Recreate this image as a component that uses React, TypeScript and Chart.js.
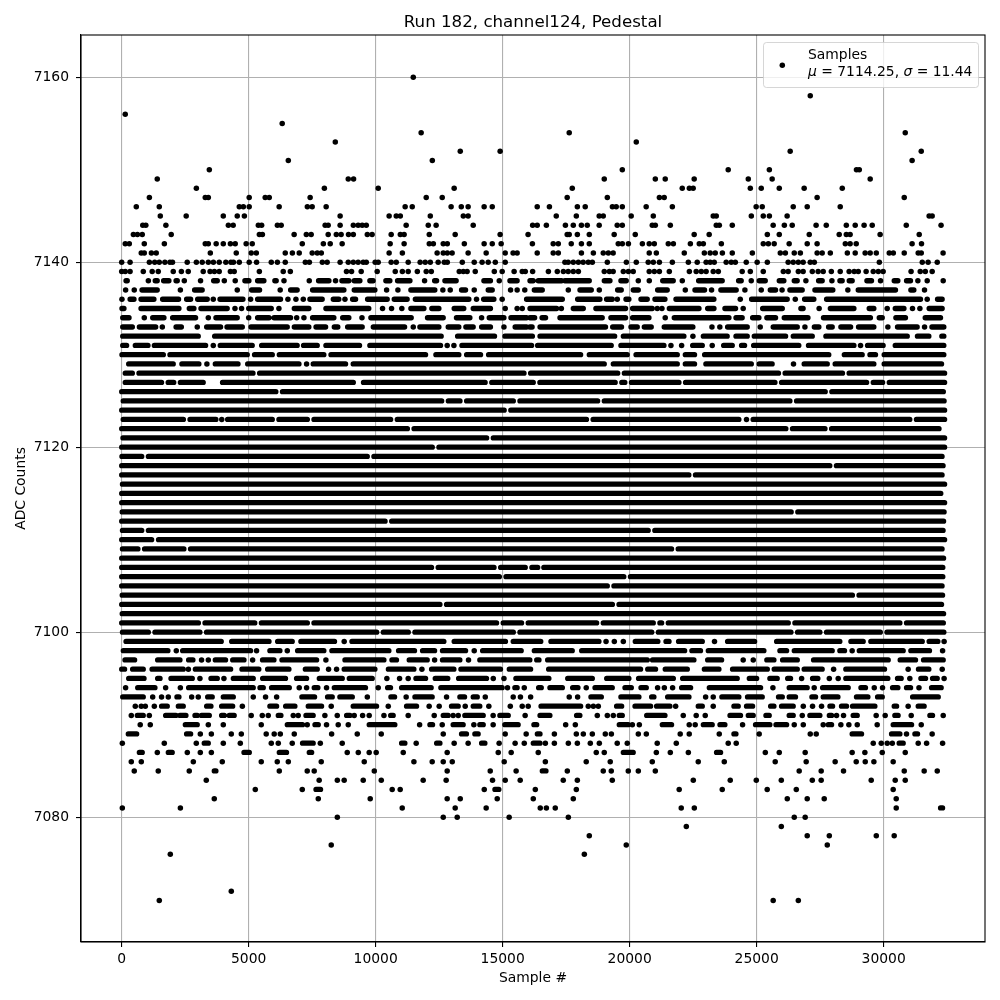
import React, { useEffect, useRef } from "react";
import { Chart, registerables } from "chart.js";

Chart.register(...registerables);

type Cell = number | [number, number];

const titleText = "Run 182, channel124, Pedestal";
const xLabel = "Sample #";
const yLabel = "ADC Counts";
const xTicks = [0, 5000, 10000, 15000, 20000, 25000, 30000];
const yTicks = [7080, 7100, 7120, 7140, 7160];
const legendName = "Samples";
const mu = "7114.25";
const sigma = "11.44";

// A plain number is one sample; a pair is a solid run of overlapping samples.
const r7160: Cell[] = [11480];
const r7158: Cell[] = [27110];
const r7156: Cell[] = [140];
const r7155: Cell[] = [6320];
const r7154: Cell[] = [11790, 17620, 30850];
const r7153: Cell[] = [8410, 20260];
const r7152: Cell[] = [13330, 14900, 26320, 31480];
const r7151: Cell[] = [6560, 12230, 31120];
const r7150: Cell[] = [3450, 19710, 23880, 25500, 28930, 29040];
const r7149: Cell[] = [1400, 8920, 9130, 19000, 21010, 21400, 22540, 24670, 25610, 29470];
const r7148: Cell[] = [2940, 7980, 10100, 13090, 17740, 22070, 22350, 22500, 24750, 25180, 25890, 26870, 28370];
const r7147: Cell[] = [1090, 3290, 3410, 5020, 5650, 5810, 7420, 11990, 12620, 17540, 19120, 21170, 21360, 27380, 30810];
const r7146: Cell[] = [575, 1480, 4630, 4790, 5020, 6200, 7310, 7500, 8050, 11160, 11440, 12970, 13370, 13640, 14270, 14590, 16360, 16840, 17940, 18250, 19320, 19470, 19710, 20650, 21680, 24980, 25220, 26440, 26990, 28290];
const r7145: Cell[] = [1520, 2540, 4000, 4550, 4830, 8600, 10530, 10810, 10970, 12150, 13450, 13640, 17110, 17900, 18800, 18960, 20060, 20930, 23290, 23410, 24790, 25260, 25500, 26200, 31790, 31910];
const r7144: Cell[] = [830, 950, 1740, 4200, 4390, 5380, 5510, 6130, 6280, 8010, 8130, 8600, 9120, 9310, 9470, 9630, 11200, 12070, 12380, 13840, 16180, 16360, 16720, 17470, 17780, 18100, 18330, 18800, 19510, 19710, 20890, 21010, 21600, 23410, 23530, 24040, 25650, 26090, 26400, 27340, 27740, 28530, 28880, 29230, 29550, 30890, 32260];
const r7143: Cell[] = [460, 620, 810, 1950, 5420, 5540, 6790, 7270, 7460, 8130, 8450, 8640, 8930, 9120, 9670, 9860, 10610, 10970, 11120, 12110, 13130, 14900, 16000, 17540, 17620, 17940, 18410, 19390, 20220, 22540, 23130, 25420, 25890, 27070, 28250, 28530, 28680, 29860, 31400];
const r7142: Cell[] = [140, 300, 890, 1680, 3290, 3410, 3720, 4000, 4280, 4470, 4900, 5140, 7110, 7940, 8210, 8680, 10570, 11120, 12110, 12270, 12660, 12820, 13490, 14270, 14590, 14940, 16170, 16990, 17190, 17700, 18100, 18410, 19550, 19710, 19950, 20500, 20770, 20970, 21520, 21720, 22390, 22740, 22900, 23610, 25260, 25460, 25690, 26280, 26990, 27380, 28490, 28680, 28920, 31120, 31490];
const r7141: Cell[] = [770, 890, 1170, 1360, 3490, 4510, 5100, 5300, 6440, 6720, 6990, 7500, 7700, 7860, 10530, 11050, 12420, 12660, 12820, 13010, 13640, 14350, 15100, 15410, 15570, 16360, 16990, 17190, 18100, 18570, 18960, 19160, 19350, 20770, 21050, 22150, 22940, 23170, 23370, 23650, 24040, 24830, 25930, 26130, 26480, 26720, 27380, 27580, 27900, 28570, 28880, 29270, 29470, 29710, 30220, 30380, 30810, 31360, 31480, 32340];
const r7140: Cell[] = [0, 330, 1090, 1300, 1480, 1700, 1900, 2000, 2580, 2940, 3170, 3410, 3610, 3840, 4100, 4300, 4400, 4630, 5020, 5310, 5890, 6130, 6440, 7230, 7390, 7900, 8090, 8600, 8920, 9120, 9310, 9510, 9630, 9980, 10100, 10610, 10810, 11280, 11750, 11950, 12150, 12460, 12700, 12820, 13410, 13880, 14190, 14430, 14710, 15100, 17450, 17580, 17780, 17980, 18170, 18370, 18530, 19120, 19870, 20260, 20730, 20930, 21170, 21680, 22310, 22660, 23010, 23170, 23330, 23800, 24000, 24160, 24590, 25020, 25420, 26240, 26440, 26640, 26830, 27110, 27270, 29830, 31520, 31750, 32110];
const r7139: Cell[] = [0, 140, 330, 850, 1200, 1440, 2030, 2350, 2620, 3210, 3480, 3650, 3840, 4280, 4430, 5420, 6360, 6640, 8850, 9050, 9430, 10060, 10770, 11050, 11280, 11640, 11990, 12190, 13290, 13450, 13600, 13920, 14670, 14980, 15450, 15770, 15890, 16180, 16800, 17150, 17390, 17580, 17780, 17980, 19000, 19200, 19350, 19750, 19950, 20140, 20770, 20970, 21170, 21560, 22350, 22620, 22820, 23010, 23290, 23490, 24430, 24750, 25260, 26050, 26240, 26640, 26830, 27190, 27420, 27620, 27940, 28290, 28640, 28840, 29000, 29310, 29590, 29790, 29980, 31080, 31440, 31640, 31910];
const r7138: Cell[] = [[170, 220], 1050, [1320, 1400], [1650, 1860], [2140, 2190], 2465, 3105, [3620, 3765], 4040, 4470, [4850, 5010], [5350, 5600], [6030, 6085], 6390, 7385, [7750, 8160], 8420, [8670, 8945], [9155, 9380], [9770, 9900], [10400, 10560], [10860, 11350], 11925, [12320, 12400], [12725, 13170], [14260, 14520], 14865, [15285, 15570], [16075, 16200], [16400, 17320], [17450, 18410], [19000, 19225], [19655, 19867], 20340, 20772, [21300, 21717], 22071, [22714, 23645], [24288, 24393], 24787, [25100, 25340], [25889, 26072], [26479, 26597], 26938, [27437, 27581], 27962, [28277, 28368], [28644, 28762], [29340, 29523], 29877, [30415, 30560], [30900, 31058], 31347, 31714, 32344];
const r7137: Cell[] = [155, 495, [800, 1400], 2310, [2870, 3170], 4550, [5115, 5430], 6240, [6650, 6910], [7515, 8750], [9155, 9970], 10430, 10875, [11385, 12330], 12645, 12935, [13380, 13540], 13880, [14430, 14590], 15310, 15570, 15870, [16245, 16560], 17584, [18043, 18490], 18804, [19525, 19670], [20142, 20340], [21100, 21480], 22190, [22570, 22950], 23225, [23590, 24196], 24537, 25180, [25535, 25745], 26000, [26308, 26794], [27293, 28000], 28590, [28998, 30467], [31070, 31190], 31609];
const r7136: Cell[] = [10, [330, 485], [760, 1270], [1610, 2240], [2555, 2715], [2990, 3370], 3606, [3870, 4775], 5075, [5350, 6255], 6545, 6860, 7150, [7410, 7895], [8330, 8550], 8790, [9090, 9210], [9680, 10455], [10730, 11240], [11560, 13670], 13970, [14250, 14655], 14980, [15940, 17350], [17950, 18830], [19090, 19316], 19512, [19854, 19970], [20444, 20693], [20995, 21390], [21822, 23317], 24354, [24800, 26204], 26520, [26886, 27253], [27752, 31452], 31714, [32120, 32304]];
const r7135: Cell[] = [[10, 90], [760, 2255], [2660, 2845], [3120, 4155], 4460, 4720, [5000, 5890], 6190, [6795, 7370], [8040, 9730], 10270, 10625, 11030, [11385, 11900], [12210, 12490], [13090, 13470], [13840, 14520], 15100, 15570, 15770, [16075, 17125], 17310, [17780, 18175], [18670, 19840], [20115, 20890], 21087, 21270, [21560, 22730], [23070, 23320], [23750, 24170], 24470, [25235, 26010], [26740, 26830], 27460, [27900, 28830], [29430, 29615], 30140, [30455, 30800], 31135, 31426, [31790, 32304]];
const r7134: Cell[] = [[40, 290], 890, [1220, 1665], [2005, 2910], 3410, [3710, 4550], 5000, [5350, 5800], [6000, 6650], 6890, 7175, [7515, 8355], [8700, 8945], 9460, [9810, 11400], [12040, 12660], [13180, 13710], 14170, [14470, 15050], [15325, 15940], [16075, 16260], [16550, 16690], [17255, 18920], [19260, 19840], [20115, 20760], 21400, [21755, 23910], [24185, 24430], [24840, 25090], [25400, 25745], [26085, 27020], [27630, 29480], [29825, 29945], [30480, 30860], [31635, 32240]];
const r7133: Cell[] = [[40, 420], [695, 1340], 1600, [2140, 2350], 2975, [3345, 3895], [4145, 4750], [5090, 6520], [6795, 7370], [7650, 8030], [8370, 8510], [8895, 9470], [9905, 11140], 11480, [11740, 12490], [12855, 13275], [13550, 13840], [14170, 14520], 15050, [15490, 15940], [16075, 16160], [16470, 19050], [19330, 19680], [20050, 20300], [20575, 20850], [21360, 22490], 23240, 23550, [23855, 24630], 25140, [25650, 26600], 26900, [27270, 27450], [27830, 27975], [28315, 28700], [29010, 29615], 30165, [30545, 31320], 31610, [31900, 32370]];
const r7132: Cell[] = [[40, 3015], [3660, 12580], [13225, 14680], [15090, 16170], [16470, 19410], [19750, 22136], 22490, [22900, 23840], [24185, 24630], [24905, 26140], [26440, 27190], [27725, 30930], [31330, 31780], [32290, 32370]];
const r7131: Cell[] = [[40, 195], [535, 1035], [1285, 3305], 3606, [3880, 5140], [5510, 6910], [7160, 7700], [8040, 9365], [9770, 12555], 12816, 13080, [13395, 16140], [16375, 19275], [19655, 21350], 21625, 22045, [22480, 22860], 23250, [23700, 24040], [24405, 24525], [24880, 26660], [27040, 28830], 29090, [29365, 29980], [30455, 32370]];
const r7130: Cell[] = [[10, 1640], [1900, 4945], [5230, 5930], [6205, 7960], [8240, 11965], [12370, 13275], [13580, 14130], [14445, 18070], [18410, 19905], [20250, 21875], [22190, 22555], [22950, 27840], [28450, 29155], [29460, 29680], [30020, 32370]];
const r7129: Cell[] = [[275, 2030], [2370, 3040], 3355, [3685, 4580], [4960, 6980], 7280, [7540, 8815], [9115, 19000], [19355, 21875], [22190, 22555], [23000, 24790], [25100, 25610], 26450, [26870, 27780], [28090, 29615], [30020, 32280]];
const r7128: Cell[] = [[140, 420], [680, 5170], [5430, 15840], [16100, 19530], [19790, 25860], [26120, 28380], [28640, 32400]];
const r7127: Cell[] = [[140, 1570], [1830, 2050], [2310, 3210], [3970, 9120], [9520, 14310], [14570, 16205], [16465, 19430], [19690, 19810], [20070, 21940], [22200, 25720], [25980, 29330], [29590, 29960], [30220, 32400]];
const r7126: Cell[] = [[0, 6070], [6330, 27700], [27960, 32350]];
const r7125: Cell[] = [[60, 12600], [12860, 13320], [13580, 15420], [15680, 18740], [19000, 26310], [26570, 32380]];
const r7124: Cell[] = [[0, 15060], [15320, 32400]];
const r7123: Cell[] = [[60, 2430], [2690, 3710], 3940, [4170, 5930], [6190, 7310], [7570, 10590], [10850, 18300], [18560, 24300], 24600, [24860, 31030], [31290, 32400]];
const r7122: Cell[] = [[0, 11250], [11510, 26150], [26410, 27690], [27950, 32180]];
const r7121: Cell[] = [[50, 14370], [14630, 32400]];
const r7120: Cell[] = [[0, 12230], [12490, 32400]];
const r7119: Cell[] = [[10, 790], [1050, 9670], [9930, 32300]];
const r7118: Cell[] = [[0, 27880], [28140, 32340]];
const r7117: Cell[] = [[0, 22330], [22590, 32300]];
const r7116: Cell[] = [[30, 32400]];
const r7115: Cell[] = [[0, 32250]];
const r7114: Cell[] = [[0, 32400]];
const r7113: Cell[] = [[20, 26360], [26620, 32380]];
const r7112: Cell[] = [[0, 10370], [10630, 32360]];
const r7111: Cell[] = [[30, 790], [1050, 20730], [20990, 32340]];
const r7110: Cell[] = [[0, 1180], [1450, 32400]];
const r7109: Cell[] = [[30, 640], [900, 2450], [2710, 21650], [21910, 32300]];
const r7108: Cell[] = [[0, 32360]];
const r7107: Cell[] = [[0, 12200], [12460, 14660], [14920, 15890], [16150, 16380], [16620, 32330]];
const r7106: Cell[] = [[0, 14870], [15130, 19770], [20030, 32330]];
const r7105: Cell[] = [[0, 19120], [19380, 32300]];
const r7104: Cell[] = [[20, 28770], [29030, 32320]];
const r7103: Cell[] = [[0, 12530], [12790, 19320], [19580, 32280]];
const r7102: Cell[] = [[20, 32360]];
const r7101: Cell[] = [[0, 3020], [3280, 5240], [5500, 7310], [7570, 14760], [15020, 15745], [16005, 18700], [18960, 20930], [21190, 21260], [21520, 26245], [26505, 30640], [30900, 32350]];
const r7100: Cell[] = [[30, 1050], [1310, 3080], [3340, 10040], [10300, 11285], [11545, 15420], [15680, 20870], [21130, 26350], [26610, 27490], [27750, 29870], [30130, 32370]];
const r7099: Cell[] = [[170, 3920], [4330, 5800], [6140, 6715], [7055, 8380], 8760, [9065, 12685], [13090, 15110], [15415, 16500], [16900, 18790], 19070, 19395, 19750, [20220, 21110], [21430, 21550], [21925, 22860], 23340, [23855, 24920], [25785, 28275], [28710, 29195], [29495, 31520], [31790, 32135], 32380];
const r7098: Cell[] = [[63, 1820], 2150, [2400, 5075], 5310, [5835, 6230], 6520, [6925, 7960], [8275, 10520], [10900, 11530], [11845, 12320], [12630, 13540], 13880, [14210, 15730], [16245, 17740], [18110, 22165], [22450, 22790], [23095, 25285], [25915, 26180], [26480, 27975], [28275, 28460], 28760, [29040, 30770], [31070, 31805], 32320];
const r7097: Cell[] = [[130, 510], [1415, 2295], [2635, 2805], 3145, 3410, [3685, 4090], [4370, 4815], 5155, [5545, 5995], [6310, 7675], 8040, [8790, 10325], [10640, 10820], [11320, 12030], 12320, [12630, 13315], 13655, [14100, 16070], [16340, 16430], [16770, 20695], [20900, 22530], [23070, 23620], 24470, 24865, [25400, 25680], [26020, 26600], [27240, 30180], [30650, 31255], [31570, 32345]];
const r7096: Cell[] = [[0, 115], [430, 850], [1195, 2425], 2625, [2900, 4290], [4735, 5400], [5745, 6585], [7230, 7700], 8145, 8460, [8760, 9970], [10500, 11505], 11820, [12200, 13080], [13355, 14915], [15260, 16100], [16810, 20430], [20710, 21020], [21400, 22270], [22940, 23515], [24050, 25420], [25690, 26600], [26870, 27580], 28030, [28510, 30035], 30965, [31370, 31780], 32305];
const r7095: Cell[] = [[275, 880], [1415, 1510], [1940, 2780], 3080, [3515, 3765], 4025, [4395, 5180], [5550, 6450], [6885, 7280], [7780, 8685], [8960, 9865], 10440, 10940, 11280, [11585, 11965], [12345, 12840], [13265, 14365], 14630, 15050, [15520, 16820], [17560, 18530], [19095, 19970], [20350, 21720], [22085, 24235], [24710, 25000], [25520, 25810], [26220, 26335], 26770, [27200, 27410], 27860, 28210, [28510, 30165], [30545, 30690], 31030, [31465, 31650], [31925, 32110], 32380];
const r7094: Cell[] = [155, [630, 1310], 1730, 2310, [2635, 5180], [5445, 5575], [5900, 6600], 6990, 7280, [7580, 7725], 8065, [8370, 9600], 10100, [10470, 10585], [11020, 12185], [12565, 14980], 15190, [15480, 15570], 15850, [16415, 16520], [16860, 17350], [17755, 17965], 18290, [18635, 19315], [19815, 20065], [20445, 20655], 21100, 21365, 21690, [22045, 22400], [23135, 25155], 25640, [26280, 26990], 27265, [27595, 28605], [29105, 29285], 29630, 29955, [30350, 30560], [30900, 31060], 31390, [31885, 32265]];
const r7093: Cell[] = [[40, 850], 1220, 1570, 1835, [2175, 2255], 2755, 3015, [3385, 3565], [4000, 4395], 5180, 5665, 6100, [7095, 7595], [8105, 8290], [8590, 9080], 9670, [10600, 10745], 11200, [11545, 12225], 12790, [13315, 13500], [13840, 14000], 14315, 15415, 15700, 16100, 17620, 17950, [18475, 18885], [19655, 20365], [20865, 20955], [21495, 22335], 22990, 23290, [23630, 24300], [24640, 25220], [25860, 26010], [26280, 26530], [27175, 27320], [27620, 28200], [28930, 29380], [29760, 29945], [31140, 32150]];
const r7092: Cell[] = [535, 770, 930, 1285, [1570, 1795], [2230, 2425], [3345, 3515], [3935, 4370], 4750, [5835, 6100], [6455, 6820], [7345, 7870], 8250, [9115, 10035], 10495, [11215, 11610], 12105, 12500, [12985, 13250], 13525, [13840, 14100], 14455, 15300, 15770, 16005, [16510, 18070], 18370, 18570, 18765, [19485, 19685], [20210, 20825], [21060, 21585], 21810, [22700, 22860], 23290, [24105, 24275], [24600, 24840], [25550, 25680], [25980, 26440], 26835, 27200, 27555, [27885, 27990], [28340, 28540], [28775, 29655], [30415, 30510], 30965, [31360, 31595]];
const r7091: Cell[] = [378, [615, 850], 1087, [1730, 2135], [2295, 2530], [2885, 2975], [3145, 3450], [3935, 4040], [4235, 4430], 5100, 5535, 5770, [6165, 6270], 6755, 6950, [7255, 7540], 8000, 8487, [8855, 8985], 9155, 9485, 9745, 10325, [10590, 10690], 11280, 12305, [12660, 12855], 13050, 13250, [13510, 14235], 14625, [14890, 15220], 15885, [16470, 16860], [17910, 18040], 18725, 19120, 19355, [19590, 19710], [20670, 21390], 22110, 22620, 22975, [23950, 24365], [24670, 24865], [25365, 25495], [26280, 26440], 26795, [27095, 27490], [27860, 27950], 28145, 28420, [28800, 28960], 29705, 30060, [30440, 30570], 31085, [31820, 31925], 32345];
const r7090: Cell[] = [730, 1125, [2505, 2975], 3410, 4000, 5495, [6520, 7120], 7305, [7610, 7740], 8065, 8525, 8920, [9745, 10755], 11730, [12135, 12240], 12620, [13050, 13445], 13865, [14100, 14235], 14625, [15085, 15610], [16230, 16340], 17480, 17860, [19590, 19945], 20105, 20380, [21285, 21650], 22345, 22580, [22900, 23250], [23555, 23750], 24445, [24955, 25520], [25760, 26180], 26480, 26835, 27620, [27820, 27950], 28315, 28630, 28960, 29745, [30375, 31100], 31480];
const r7089: Cell[] = [[260, 590], [2555, 2715], 3095, 3530, 4315, 4710, 5690, 6005, 6245, 6795, 8265, 9275, 10220, 12660, [13380, 13575], [13905, 14035], 15100, 15925, [16365, 16470], 17035, 17900, 18175, 18530, 19040, 19280, 20340, 20655, 21990, 22345, 23527, [24105, 24185], 25100, 27110, 27345, [28760, 29130], [30310, 30640], 30900, [31230, 31335], 31910];
const r7088: Cell[] = [25, 1677, 2937, [3250, 3410], 4000, 4670, 5890, 6165, 6715, [7120, 7540], 7820, 8683, [11020, 11150], 11595, [12400, 12530], 13090, 13640, [14170, 14300], 14860, 15490, 15850, [16205, 16470], 16680, 17035, 17585, 17940, 18450, 18805, 19510, 19905, 21085, 21835, 23880, 24195, 29590, 29905, 30140, 30340, [30610, 30770], 31360, 31690, 32320];
const r7087: Cell[] = [[695, 810], 1402, [1835, 1990], 2583, 3095, 3530, [4815, 5025], [6205, 6490], [7385, 7480], 8880, 9315, 9745, 10020, 11085, 12815, 14825, 15335, 16400, 18685, 19000, [19750, 20140], 21050, 21600, 22310, [23420, 23580], 25340, 25890, 26910, 28760, 29260, 29945, 30850];
const r7086: Cell[] = [378, 772, 2820, 3960, 5495, 6125, 6560, 7857, 9550, 11505, 12225, 12660, 13015, 15060, 16680, 18290, 19235, 20890, 22700, 23725, 25730, 26950, 28090, 28920, 29275, 29615, 30375];
const r7085: Cell[] = [495, 1440, 2660, [3645, 3710], 6205, 7305, 7580, 9945, 12815, 14510, 15530, [16560, 16705], 17545, 18960, 19275, 19945, 20340, 21010, 26675, 27540, 28420, 30810, 31595, 32110];
const r7084: Cell[] = [3330, 7775, 8490, 8760, 9510, 10220, 11870, 12775, 14600, 15100, 15690, 17385, 17940, 19315, 22505, 23960, 24985, 25970, 27190, 27540, 29510, 30455, 30850];
const r7083: Cell[] = [5260, 7110, [7650, 7830], 10650, 10965, 14275, [14695, 14850], 16285, 17900, 21950, 23645, 25415, 26560, 30375];
const r7082: Cell[] = [3645, 7740, 9785, 12815, 13330, 14785, 16205, 17780, 26205, 26990, 27660, 30495];
const r7081: Cell[] = [25, 2310, 11045, 13130, 14350, 16480, 16720, 17070, 22030, 22545, 30495, [32240, 32320]];
const r7080: Cell[] = [8490, 12660, 13210, 15255, 17585, 26480, 26910];
const r7079: Cell[] = [22230, 25970];
const r7078: Cell[] = [18410, 26990, 27860, 29710, 30415];
const r7077: Cell[] = [8250, 19865, 27780];
const r7076: Cell[] = [1914, 18215];
const r7072: Cell[] = [4315];
const r7071: Cell[] = [1480, 25650, 26640];

const rows: [number, Cell[]][] = [
  [7160, r7160], [7158, r7158], [7156, r7156], [7155, r7155], [7154, r7154], [7153, r7153], [7152, r7152], [7151, r7151],
  [7150, r7150], [7149, r7149], [7148, r7148], [7147, r7147], [7146, r7146], [7145, r7145], [7144, r7144], [7143, r7143],
  [7142, r7142], [7141, r7141], [7140, r7140], [7139, r7139], [7138, r7138], [7137, r7137], [7136, r7136], [7135, r7135],
  [7134, r7134], [7133, r7133], [7132, r7132], [7131, r7131], [7130, r7130], [7129, r7129], [7128, r7128], [7127, r7127],
  [7126, r7126], [7125, r7125], [7124, r7124], [7123, r7123], [7122, r7122], [7121, r7121], [7120, r7120], [7119, r7119],
  [7118, r7118], [7117, r7117], [7116, r7116], [7115, r7115], [7114, r7114], [7113, r7113], [7112, r7112], [7111, r7111],
  [7110, r7110], [7109, r7109], [7108, r7108], [7107, r7107], [7106, r7106], [7105, r7105], [7104, r7104], [7103, r7103],
  [7102, r7102], [7101, r7101], [7100, r7100], [7099, r7099], [7098, r7098], [7097, r7097], [7096, r7096], [7095, r7095],
  [7094, r7094], [7093, r7093], [7092, r7092], [7091, r7091], [7090, r7090], [7089, r7089], [7088, r7088], [7087, r7087],
  [7086, r7086], [7085, r7085], [7084, r7084], [7083, r7083], [7082, r7082], [7081, r7081], [7080, r7080], [7079, r7079],
  [7078, r7078], [7077, r7077], [7076, r7076], [7072, r7072], [7071, r7071],
];

const FONT = '"DejaVu Sans"';

const framePlugin = {
  id: "frame",
  afterDraw(chart: any) {
    const { ctx, chartArea: a } = chart;
    ctx.save();
    ctx.strokeStyle = "#000";
    ctx.lineWidth = 1.1;
    ctx.strokeRect(a.left, a.top, a.right - a.left, a.bottom - a.top);

    ctx.fillStyle = "#000";
    ctx.font = `16.67px ${FONT}`;
    ctx.textAlign = "center";
    ctx.textBaseline = "alphabetic";
    ctx.fillText(titleText, (a.left + a.right) / 2, 27);

    const bx = 763.5, by = 42.5, bw = 215, bh = 45, rad = 3;
    ctx.beginPath();
    ctx.roundRect(bx, by, bw, bh, rad);
    ctx.fillStyle = "rgba(255,255,255,0.8)";
    ctx.fill();
    ctx.strokeStyle = "rgba(204,204,204,0.8)";
    ctx.lineWidth = 1;
    ctx.stroke();

    ctx.fillStyle = "#000";
    ctx.beginPath();
    ctx.arc(782.3, 65.3, 2.75, 0, Math.PI * 2);
    ctx.fill();

    ctx.textAlign = "left";
    ctx.font = `13.89px ${FONT}`;
    ctx.fillText(legendName, 808, 59);
    const parts: [string, boolean][] = [
      ["\u03bc", true], [` = ${mu}, `, false], ["\u03c3", true], [` = ${sigma}`, false],
    ];
    let x = 808;
    for (const [t, italic] of parts) {
      ctx.font = `${italic ? "italic " : ""}13.89px ${FONT}`;
      ctx.fillText(t, x, 76);
      x += ctx.measureText(t).width;
    }
    ctx.restore();
  },
};

export default function App() {
  const ref = useRef<HTMLCanvasElement>(null);
  useEffect(() => {
    const dots: { x: number; y: number }[] = [];
    const runs: { x: number; y: number | null }[] = [];
    for (const [level, cells] of rows) {
      for (const c of cells) {
        if (Array.isArray(c)) {
          runs.push({ x: c[0], y: level }, { x: c[1], y: level }, { x: c[1], y: null });
        } else {
          dots.push({ x: c, y: level });
        }
      }
    }
    const chart = new Chart(ref.current!, {
      type: "scatter",
      data: {
        datasets: [
          { label: legendName, data: dots, backgroundColor: "#000", borderWidth: 0, pointRadius: 2.75, pointHoverRadius: 2.75 } as any,
          {
            label: legendName,
            data: runs,
            showLine: true,
            spanGaps: false,
            borderColor: "#000",
            borderWidth: 5.3,
            borderCapStyle: "round",
            pointRadius: 0,
            pointHoverRadius: 0,
          } as any,
        ],
      },
      options: {
        animation: false,
        responsive: false,
        events: [],
        layout: { padding: { top: 35, right: 15, left: 0, bottom: 0 } },
        plugins: { legend: { display: false }, title: { display: false }, tooltip: { enabled: false } },
        scales: {
          x: {
            type: "linear",
            min: -1602,
            max: 33990,
            afterFit: (s: any) => { s.height = 58; },
            afterBuildTicks: (s: any) => { s.ticks = xTicks.map((value) => ({ value })); },
            grid: { color: "#b0b0b0", lineWidth: 1.1, tickColor: "#000", tickLength: 5 },
            border: { color: "#000", width: 1.1 },
            ticks: { color: "#000", font: { family: "DejaVu Sans", size: 13.89 }, padding: 4, maxRotation: 0, autoSkip: false, callback: (v: any) => String(v) },
            title: { display: true, text: xLabel, color: "#000", font: { family: "DejaVu Sans", size: 13.89 }, padding: { top: 4, bottom: 13 } },
          },
          y: {
            type: "linear",
            min: 7066.5,
            max: 7164.57,
            afterFit: (s: any) => { s.width = 81; },
            afterBuildTicks: (s: any) => { s.ticks = yTicks.map((value) => ({ value })); },
            grid: { color: "#b0b0b0", lineWidth: 1.1, tickColor: "#000", tickLength: 5 },
            border: { color: "#000", width: 1.1 },
            ticks: { color: "#000", font: { family: "DejaVu Sans", size: 13.89 }, padding: 7, autoSkip: false, callback: (v: any) => String(v) },
            title: { display: true, text: yLabel, color: "#000", font: { family: "DejaVu Sans", size: 13.89 }, padding: { top: 13, bottom: 0 } },
          },
        },
      },
      plugins: [framePlugin],
    } as any);
    return () => chart.destroy();
  }, []);
  return (
    <div style={{ position: "fixed", left: 0, top: 0, width: 1000, height: 1000, background: "#fff" }}>
      <canvas ref={ref} width={1000} height={1000} style={{ display: "block" }} />
    </div>
  );
}
